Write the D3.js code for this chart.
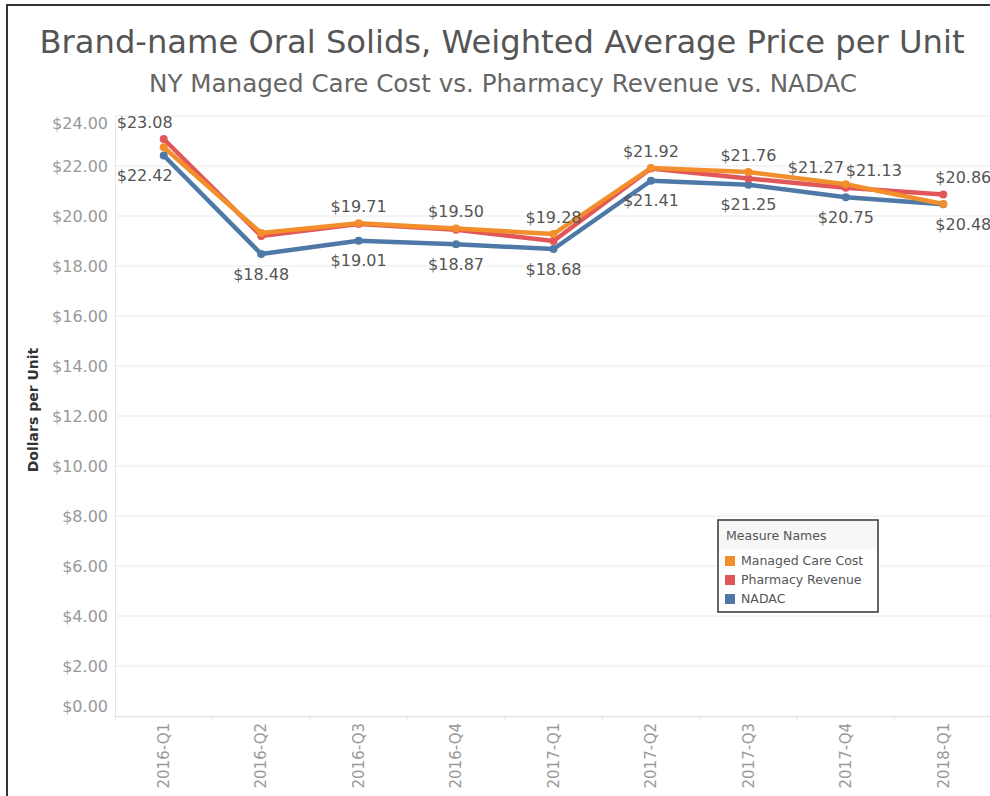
<!DOCTYPE html>
<html>
<head>
<meta charset="utf-8">
<script src="https://cdn.jsdelivr.net/npm/d3@7"></script>
<style>
  body { margin: 0; background: #fff; }
  svg { display: block; font-family: "DejaVu Sans", sans-serif; }
</style>
</head>
<body>
<div id="chart"></div>
<script>
// quarters on the x axis
const quarters = ['2016-Q1','2016-Q2','2016-Q3','2016-Q4','2017-Q1','2017-Q2','2017-Q3','2017-Q4','2018-Q1']

// values
const managedCareCost = [22.75, 19.32, 19.71, 19.50, 19.28, 21.92, 21.76, 21.27, 20.48]
const pharmacyRevenue = [23.08, 19.20, 19.68, 19.45, 19.00, 21.90, 21.50, 21.13, 20.86]
const nadac           = [22.42, 18.48, 19.01, 18.87, 18.68, 21.41, 21.25, 20.75, 20.47]

// which points carry a label, and on which side (1 above, -1 below)
const managedLabels  = [0, 0, 1, 1, 1, 1, 1, 1, -1]
const pharmacyLabels = [1, 0, 0, 0, 0, 0, 0, 1, 1]
const nadacLabels    = [-1, -1, -1, -1, -1, -1, -1, -1, 0]

const yTicks = [0, 2, 4, 6, 8, 10, 12, 14, 16, 18, 20, 22, 24]

const series = [
  { name: 'NADAC', values: nadac, labels: nadacLabels, color: '#4e79a7' },
  { name: 'Pharmacy Revenue', values: pharmacyRevenue, labels: pharmacyLabels, color: '#e15759' },
  { name: 'Managed Care Cost', values: managedCareCost, labels: managedLabels, color: '#f28e2b' }
]
const legendOrder = ['Managed Care Cost', 'Pharmacy Revenue', 'NADAC']

const dimensions = {
  width: 990,
  height: 796,
  margin: { left: 115, right: -2, top: 110, bottom: 80 }
}
dimensions.ctrWidth = dimensions.width - dimensions.margin.left - dimensions.margin.right
dimensions.ctrHeight = dimensions.height - dimensions.margin.top - dimensions.margin.bottom

const svg = d3.select('#chart')
  .append('svg')
  .attr('width', dimensions.width)
  .attr('height', dimensions.height)

// outer frame
svg.append('path')
  .attr('d', `M7,${dimensions.height + 5} V5 H${dimensions.width + 5}`)
  .attr('fill', 'none')
  .attr('stroke', '#333')
  .attr('stroke-width', 2)

svg.append('text')
  .attr('x', 502).attr('y', 53)
  .attr('text-anchor', 'middle')
  .attr('font-size', 32.2)
  .attr('fill', '#555')
  .text('Brand-name Oral Solids, Weighted Average Price per Unit')

svg.append('text')
  .attr('x', 503).attr('y', 92)
  .attr('text-anchor', 'middle')
  .attr('font-size', 24.6)
  .attr('fill', '#666')
  .text('NY Managed Care Cost vs. Pharmacy Revenue vs. NADAC')

const ctr = svg.append('g')
  .attr('transform', `translate(${dimensions.margin.left},${dimensions.margin.top})`)

const xScale = d3.scaleBand().domain(quarters).range([0, dimensions.ctrWidth])
const xPos = (i) => xScale(quarters[i]) + xScale.bandwidth() / 2
const yScale = d3.scaleLinear().domain([0, 24]).range([dimensions.ctrHeight, 6])

// grid
ctr.append('g').selectAll('line')
  .data(yTicks.filter(d => d > 0))
  .join('line')
  .attr('x1', 0).attr('x2', dimensions.ctrWidth)
  .attr('y1', d => yScale(d)).attr('y2', d => yScale(d))
  .attr('stroke', '#f0f0f0')
  .attr('stroke-width', 1.5)

// y axis
const yAxis = d3.axisLeft(yScale).tickValues(yTicks).tickSize(0).tickPadding(7)
  .tickFormat(d => '$' + d3.format('.2f')(d))
const yAxisGroup = ctr.append('g').call(yAxis)
yAxisGroup.select('.domain').attr('stroke', '#e6e6e6')
yAxisGroup.selectAll('text')
  .attr('font-size', 16)
  .attr('font-family', '"DejaVu Sans", sans-serif')
  .attr('fill', '#999')
  .attr('dy', d => d === 24 ? '0.75em' : d === 0 ? '-0.3em' : '0.35em')

// x axis
const xAxis = d3.axisBottom(xScale).tickSize(0).tickPadding(6)
const xAxisGroup = ctr.append('g')
  .attr('transform', `translate(0,${dimensions.ctrHeight})`)
  .call(xAxis)
xAxisGroup.select('.domain').attr('stroke', '#e6e6e6').attr('stroke-width', 1.5)
xAxisGroup.selectAll('.tick-sep')
  .data(quarters)
  .join('line')
  .attr('x1', d => xScale(d)).attr('x2', d => xScale(d))
  .attr('y1', 0).attr('y2', 5)
  .attr('stroke', '#e6e6e6')
xAxisGroup.selectAll('.tick text')
  .attr('font-size', 15)
  .attr('font-family', '"DejaVu Sans", sans-serif')
  .attr('fill', '#999')
  .attr('transform', 'rotate(-90)')
  .attr('text-anchor', 'end')
  .attr('x', -7)
  .attr('y', 0)
  .attr('dy', '0.35em')

// y axis title
svg.append('text')
  .attr('transform', 'translate(38,410) rotate(-90)')
  .attr('text-anchor', 'middle')
  .attr('font-size', 14)
  .attr('font-weight', 'bold')
  .attr('fill', '#333')
  .text('Dollars per Unit')

// lines
const line = d3.line()
  .x((d, i) => xPos(i))
  .y(d => yScale(d))

series.forEach(s => {
  ctr.append('path')
    .datum(s.values)
    .attr('d', line)
    .attr('fill', 'none')
    .attr('stroke', s.color)
    .attr('stroke-width', 4.5)
    .attr('stroke-linejoin', 'round')
})
series.forEach(s => {
  ctr.append('g').selectAll('circle')
    .data(s.values)
    .join('circle')
    .attr('cx', (d, i) => xPos(i))
    .attr('cy', d => yScale(d))
    .attr('r', 4)
    .attr('fill', s.color)
})

// labels
const labelData = []
series.forEach(s => {
  s.values.forEach((v, i) => {
    if (s.labels[i] !== 0) labelData.push({ i, v, side: s.labels[i] })
  })
})
// spread labels that share a quarter and a side: higher value to the left
labelData.forEach(l => {
  const other = labelData.find(o => o !== l && o.i === l.i && o.side === l.side)
  l.shift = other ? (l.v > other.v ? -30 : 28) : 0
})

ctr.append('g').selectAll('text')
  .data(labelData)
  .join('text')
  .attr('x', d => {
    if (d.i === 0) return xPos(d.i) + 9
    if (d.i === quarters.length - 1) return xPos(d.i) - 8
    return xPos(d.i) + d.shift
  })
  .attr('y', d => yScale(d.v) + (d.side > 0 ? -17 : 20))
  .attr('dy', '0.35em')
  .attr('text-anchor', d => d.i === 0 ? 'end' : d.i === quarters.length - 1 ? 'start' : 'middle')
  .attr('font-size', 16)
  .attr('fill', '#555')
  .text(d => '$' + d3.format('.2f')(d.v))

// legend
const legend = svg.append('g').attr('transform', 'translate(718,520)')
legend.append('rect')
  .attr('width', 160).attr('height', 92)
  .attr('fill', '#fff')
  .attr('stroke', '#333')
  .attr('stroke-width', 1.5)
legend.append('rect')
  .attr('x', 1).attr('y', 1).attr('width', 158).attr('height', 28)
  .attr('fill', '#f7f7f7')
legend.append('text')
  .attr('x', 8).attr('y', 16)
  .attr('dy', '0.35em')
  .attr('font-size', 12.5)
  .attr('fill', '#555')
  .text('Measure Names')
const items = legend.selectAll('.item')
  .data(legendOrder)
  .join('g')
  .attr('transform', (d, i) => `translate(7,${41 + i * 19})`)
items.append('rect')
  .attr('width', 10).attr('height', 10)
  .attr('y', -5)
  .attr('fill', d => series.find(s => s.name === d).color)
items.append('text')
  .attr('x', 16)
  .attr('dy', '0.35em')
  .attr('font-size', 12.5)
  .attr('fill', '#555')
  .text(d => d)
</script>
</body>
</html>
